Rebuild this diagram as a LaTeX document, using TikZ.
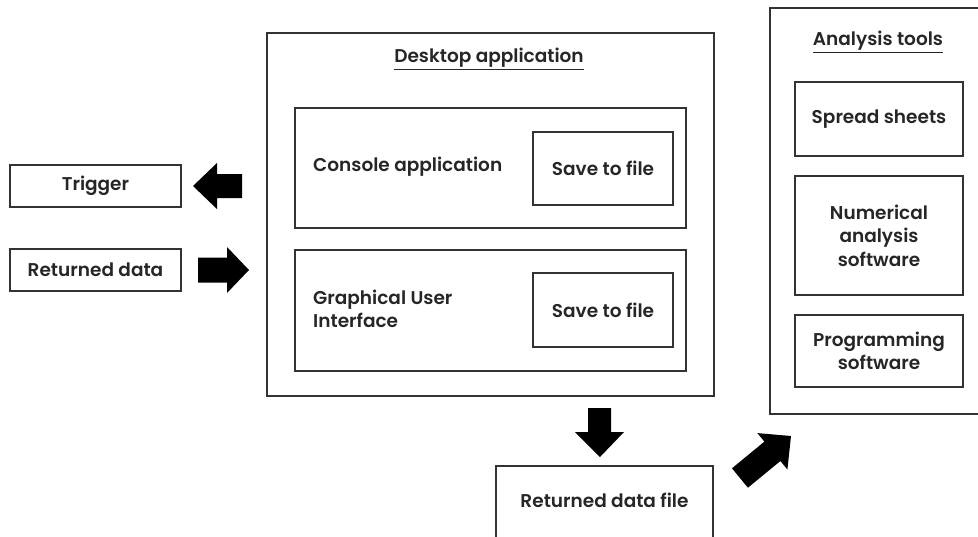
\documentclass[tikz,border=0pt]{standalone}
\usepackage{fontspec}
\setmainfont{Poppins SemiBold}
\begin{document}
\begin{tikzpicture}[x=1pt,y=-1pt,
  box/.style={draw=black!80,line width=1.1pt,inner sep=0pt,align=center},
  lbl/.style={inner sep=0pt,font=\fontsize{18.5}{23.5}\selectfont,align=center,text=black!85},
  blk/.style={fill=black,draw=none}]
\useasboundingbox (0,0) rectangle (978,536);
\clip (0,0) rectangle (978,536);
% left boxes
\node[box,minimum width=171pt,minimum height=42pt] (trig) at (95.5,186) {};
\node[lbl] (trigt) at (trig.center) {Trigger};
\node[box,minimum width=171pt,minimum height=42pt] (retd) at (95.5,270) {};
\node[lbl] (retdt) at (retd.center) {Returned data};
% desktop application
\node[box,minimum width=447pt,minimum height=363pt] (desk) at (490.5,214.5) {};
\node[lbl] (deskt) at (489,59) {\underline{Desktop application}};
\node[box,minimum width=391pt,minimum height=120pt] (cons) at (490.5,168) {};
\node[lbl,anchor=west] (const) at (313,167) {Console application};
\node[box,minimum width=140pt,minimum height=73pt] (save1) at (603,168.5) {};
\node[lbl] (save1t) at (save1.center) {Save to file};
\node[box,minimum width=391pt,minimum height=121pt] (gui) at (490.5,310.5) {};
\node[lbl,anchor=west,align=left] (guit) at (313,309) {Graphical User\\Interface};
\node[box,minimum width=140pt,minimum height=74pt] (save2) at (603,310) {};
\node[lbl] (save2t) at (save2.center) {Save to file};
% returned data file
\node[box,minimum width=217pt,minimum height=84pt] (rfile) at (604.5,508) {};
\node[lbl] (rfilet) at (604.5,500) {Returned data file};
% analysis tools
\node[box,minimum width=218pt,minimum height=406pt] (anal) at (879,211) {};
\node[lbl] (analt) at (878,42) {\underline{Analysis tools}};
\node[box,minimum width=168pt,minimum height=74pt] (spread) at (879,119) {};
\node[lbl] (spreadt) at (spread.center) {Spread sheets};
\node[box,minimum width=168pt,minimum height=119pt] (num) at (879,235.5) {};
\node[lbl] (numt) at (num.center) {Numerical\\analysis\\software};
\node[box,minimum width=168pt,minimum height=72pt] (prog) at (879,351) {};
\node[lbl] (progt) at (prog.center) {Programming\\software};
% block arrows
\fill[blk] (193,186) -- (217,163) -- (217,174) -- (242,174) -- (242,198) -- (217,198) -- (217,209) -- cycle;
\fill[blk] (249,270) -- (227,247) -- (227,257.5) -- (198,257.5) -- (198,282.5) -- (227,282.5) -- (227,293) -- cycle;
\fill[blk] (600,457) -- (575,432) -- (588,432) -- (588,408) -- (611,408) -- (611,432) -- (624,432) -- cycle;
\fill[blk] (791,436) -- (757.4,433.1) -- (764.4,441.6) -- (732.0,468.3) -- (747.9,487.7) -- (780.4,461.0) -- (787.4,469.5) -- cycle;
\end{tikzpicture}
\end{document}
